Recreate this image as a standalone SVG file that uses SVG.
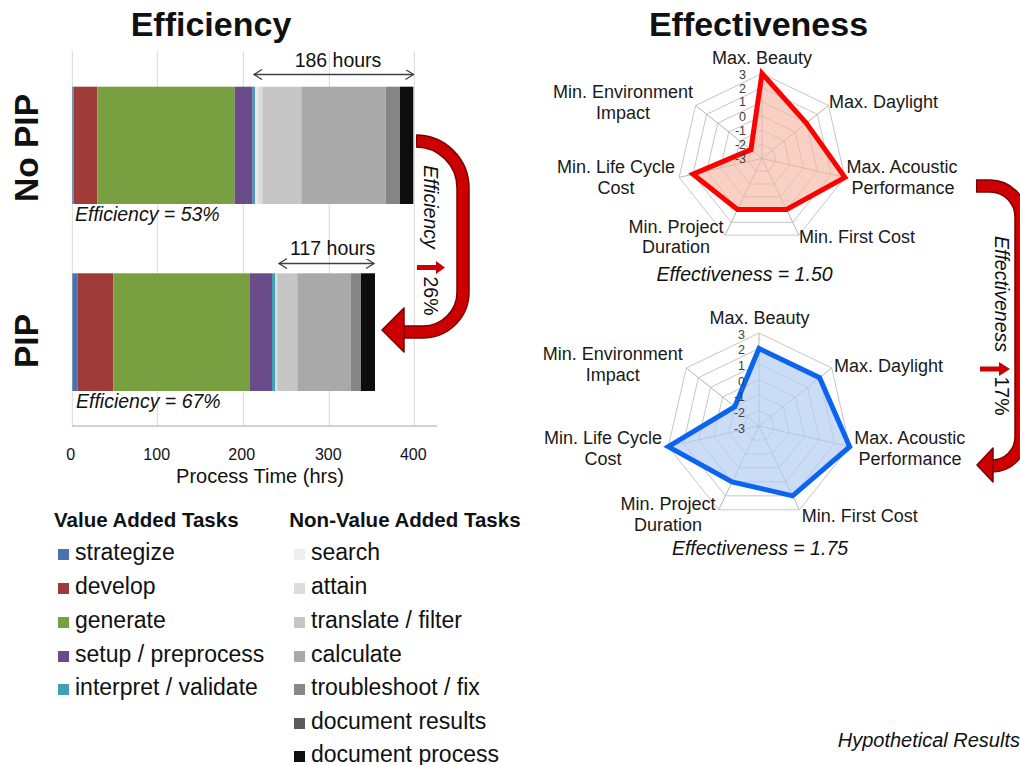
<svg xmlns="http://www.w3.org/2000/svg" width="1020" height="765" viewBox="0 0 1020 765">
<style>
text{font-family:"Liberation Sans",Arial,sans-serif;fill:#111}
.title{font-size:34px;font-weight:bold}
.side{font-size:33.5px;font-weight:bold}
.it{font-style:italic}
.lbl{font-size:19.5px}
.axl{font-size:20px}
.tick{font-size:16px}
.rl{font-size:18px;fill:#1a1a1a}
.rt{font-size:12.5px;fill:#404040;text-anchor:end}
.leg{font-size:23px}
.legh{font-size:20.5px;font-weight:bold}
.note{font-size:20px;font-style:italic}
.grid{stroke:#d9d9d9;stroke-width:1}
.ring{fill:none;stroke:#c6c6c6;stroke-width:1}
.spoke{stroke:#b4b4b4;stroke-width:1}
.band-o{fill:none;stroke:#7a0000;stroke-width:13.5}
.band-i{fill:none;stroke:#cc0000;stroke-width:10.5}
.head{fill:#cc0000;stroke:#7a0000;stroke-width:1.5;stroke-linejoin:round}
.span{stroke:#404040;stroke-width:1.3;fill:none}
.mid{text-anchor:middle}
</style>
<defs>
<marker id="chev" markerUnits="userSpaceOnUse" markerWidth="12" markerHeight="12" refX="9" refY="5" orient="auto-start-reverse">
<path d="M1,0 L9,5 L1,10" fill="none" stroke="#404040" stroke-width="1.3"/>
</marker>
</defs>
<rect width="1020" height="765" fill="#fff"/>

<g id="titles">
<text class="title mid" x="211" y="36">Efficiency</text>
<text class="title mid" x="758.5" y="36">Effectiveness</text>
</g>

<g id="label-nopip"><text class="side mid" transform="translate(38,148) rotate(-90)">No PIP</text></g>
<g id="label-pip"><text class="side mid" transform="translate(38,341) rotate(-90)">PIP</text></g>

<g id="bar-axis">
<line class="grid" x1="72.3" y1="51" x2="72.3" y2="426"/>
<line class="grid" x1="157.3" y1="51" x2="157.3" y2="426"/>
<line class="grid" x1="243.3" y1="51" x2="243.3" y2="426"/>
<line class="grid" x1="329.3" y1="51" x2="329.3" y2="426"/>
<line class="grid" x1="414.3" y1="51" x2="414.3" y2="426"/>
<line x1="72" y1="426" x2="437" y2="426" stroke="#a6a6a6" stroke-width="1.2"/>
<text class="tick mid" x="70.7" y="460">0</text>
<text class="tick mid" x="156.7" y="460">100</text>
<text class="tick mid" x="241.7" y="460">200</text>
<text class="tick mid" x="328.3" y="460">300</text>
<text class="tick mid" x="413.3" y="460">400</text>
<text class="axl mid" x="260" y="483">Process Time (hrs)</text>
</g>

<g id="bar-nopip">
<rect x="72.3" y="86.7" width="1.2" height="117.3" fill="#4a72b0"/>
<rect x="73.5" y="86.7" width="23.8" height="117.3" fill="#9e3b39"/>
<rect x="97.3" y="86.7" width="137.4" height="117.3" fill="#78a040"/>
<rect x="234.7" y="86.7" width="18" height="117.3" fill="#6a4c8b"/>
<rect x="252.7" y="86.7" width="2.3" height="117.3" fill="#3fa0b8"/>
<rect x="255" y="86.7" width="3" height="117.3" fill="#eaeaea"/>
<rect x="258" y="86.7" width="4.3" height="117.3" fill="#dcdcdc"/>
<rect x="262.3" y="86.7" width="39" height="117.3" fill="#c6c6c6"/>
<rect x="301.3" y="86.7" width="84.4" height="117.3" fill="#a9a9a9"/>
<rect x="385.7" y="86.7" width="14.3" height="117.3" fill="#858585"/>
<rect x="400" y="86.7" width="13.3" height="117.3" fill="#0d0d0d"/>
<text class="lbl it" x="75" y="221">Efficiency = 53%</text>
</g>

<g id="bar-pip">
<rect x="72.3" y="273.3" width="5" height="117.7" fill="#4a72b0"/>
<rect x="77.3" y="273.3" width="36" height="117.7" fill="#9e3b39"/>
<rect x="113.3" y="273.3" width="136.7" height="117.7" fill="#78a040"/>
<rect x="250" y="273.3" width="22" height="117.7" fill="#6a4c8b"/>
<rect x="272" y="273.3" width="3" height="117.7" fill="#3fa0b8"/>
<rect x="275" y="273.3" width="2.3" height="117.7" fill="#dcdcdc"/>
<rect x="277.3" y="273.3" width="20" height="117.7" fill="#c6c6c6"/>
<rect x="297.3" y="273.3" width="53.7" height="117.7" fill="#a9a9a9"/>
<rect x="351" y="273.3" width="10" height="117.7" fill="#858585"/>
<rect x="361" y="273.3" width="14" height="117.7" fill="#0d0d0d"/>
<text class="lbl it" x="76" y="408">Efficiency = 67%</text>
</g>

<g id="connectors">
<line class="span" x1="254" y1="74.5" x2="413.5" y2="74.5" marker-start="url(#chev)" marker-end="url(#chev)"/>
<text class="lbl mid" x="338" y="66.5">186 hours</text>
<line class="span" x1="279" y1="263.5" x2="374" y2="263.5" marker-start="url(#chev)" marker-end="url(#chev)"/>
<text class="lbl mid" x="332.7" y="255">117 hours</text>

<path class="band-o" d="M416 141 A47 47 0 0 1 463 188 L463 292 A40 40 0 0 1 423 332 L403 332"/>
<path class="band-i" d="M417 141 A47 47 0 0 1 463 188 L463 292 A40 40 0 0 1 423 332 L402 332"/>
<polygon class="head" points="404,308 382,330 404,352"/>
<text class="lbl it mid" transform="translate(424,207) rotate(90)">Efficiency</text>
<polygon fill="#cc0000" points="417,265 436,265 436,261 445,267.5 436,274 436,270 417,270"/>
<text class="lbl mid" transform="translate(424,296) rotate(90)">26%</text>

<path class="band-o" d="M976 186 L990 186 A31 31 0 0 1 1021 217 L1021 437 A29 29 0 0 1 992 466"/>
<path class="band-i" d="M977 186 L990 186 A31 31 0 0 1 1021 217 L1021 437 A29 29 0 0 1 991 466"/>
<polygon class="head" points="993,448 977,465 993,482"/>
<text class="lbl it mid" transform="translate(995,294) rotate(90)">Effectiveness</text>
<polygon fill="#cc0000" points="980,366.5 999,366.5 999,362 1010,369 999,376 999,371.5 980,371.5"/>
<text class="lbl mid" transform="translate(995,396) rotate(90)">17%</text>
</g>

<g id="radar-nopip">
<polygon class="ring" points="762,144.33 773.08,149.67 775.81,161.65 768.15,171.26 755.85,171.26 748.19,161.65 750.92,149.67"/>
<polygon class="ring" points="762,130.17 784.15,140.83 789.62,164.80 774.29,184.03 749.71,184.03 734.38,164.80 739.85,140.83"/>
<polygon class="ring" points="762,116 795.23,132 803.43,167.96 780.44,196.79 743.56,196.79 720.57,167.96 728.77,132"/>
<polygon class="ring" points="762,101.83 806.30,123.17 817.25,171.11 786.59,209.56 737.41,209.56 706.75,171.11 717.70,123.17"/>
<polygon class="ring" points="762,87.67 817.38,114.33 831.06,174.26 792.73,222.32 731.27,222.32 692.94,174.26 706.62,114.33"/>
<polygon class="ring" points="762,73.5 828.45,105.5 844.87,177.41 798.88,235.09 725.12,235.09 679.13,177.41 695.55,105.5"/>
<path class="spoke" d="M762 158.5 L762 73.5 M762 158.5 L828.45 105.5 M762 158.5 L844.87 177.41 M762 158.5 L798.88 235.09 M762 158.5 L725.12 235.09 M762 158.5 L679.13 177.41 M762 158.5 L695.55 105.5"/>
<polygon points="762,73.5 806.30,123.17 844.87,177.41 786.59,209.56 737.41,209.56 692.94,174.26 750.92,149.67" fill="#f6b9a4" fill-opacity="0.65" stroke="#ff0000" stroke-width="5" stroke-linejoin="miter"/>
<text class="rt" x="746" y="79">3</text>
<text class="rt" x="746" y="92.5">2</text>
<text class="rt" x="746" y="106">1</text>
<text class="rt" x="746" y="120.5">0</text>
<text class="rt" x="746" y="134.5">-1</text>
<text class="rt" x="746" y="149">-2</text>
<text class="rt" x="746" y="163">-3</text>
<text class="rl mid" x="762" y="64">Max. Beauty</text>
<text class="rl mid" x="623" y="98">Min. Environment</text>
<text class="rl mid" x="623" y="119">Impact</text>
<text class="rl" x="829" y="108">Max. Daylight</text>
<text class="rl mid" x="902" y="173">Max. Acoustic</text>
<text class="rl mid" x="903" y="193.5">Performance</text>
<text class="rl" x="799" y="243">Min. First Cost</text>
<text class="rl mid" x="676" y="232.5">Min. Project</text>
<text class="rl mid" x="676" y="253">Duration</text>
<text class="rl mid" x="616" y="173">Min. Life Cycle</text>
<text class="rl mid" x="616" y="194">Cost</text>
<text class="lbl it mid" x="744.5" y="280.5">Effectiveness = 1.50</text>
</g>

<g id="radar-pip">
<polygon class="ring" points="759,410.5 771.12,416.34 774.11,429.45 765.73,439.97 752.27,439.97 743.89,429.45 746.88,416.34"/>
<polygon class="ring" points="759,395 783.24,406.67 789.22,432.90 772.45,453.93 745.55,453.93 728.78,432.90 734.76,406.67"/>
<polygon class="ring" points="759,379.5 795.35,397.01 804.33,436.35 779.18,467.90 738.82,467.90 713.67,436.35 722.65,397.01"/>
<polygon class="ring" points="759,364 807.47,387.34 819.44,439.80 785.90,481.86 732.10,481.86 698.56,439.80 710.53,387.34"/>
<polygon class="ring" points="759,348.5 819.59,377.68 834.55,443.24 792.63,495.83 725.37,495.83 683.45,443.24 698.41,377.68"/>
<polygon class="ring" points="759,333 831.71,368.01 849.67,446.69 799.35,509.79 718.65,509.79 668.33,446.69 686.29,368.01"/>
<path class="spoke" d="M759 426 L759 333 M759 426 L831.71 368.01 M759 426 L849.67 446.69 M759 426 L799.35 509.79 M759 426 L718.65 509.79 M759 426 L668.33 446.69 M759 426 L686.29 368.01"/>
<polygon points="759,348.5 819.59,377.68 849.67,446.69 792.63,495.83 732.10,481.86 668.33,446.69 734.76,406.67" fill="#b4cdf2" fill-opacity="0.7" stroke="#0a64f0" stroke-width="5" stroke-linejoin="miter"/>
<text class="rt" x="745" y="338.5">3</text>
<text class="rt" x="745" y="354">2</text>
<text class="rt" x="745" y="370">1</text>
<text class="rt" x="745" y="385.5">0</text>
<text class="rt" x="745" y="401">-1</text>
<text class="rt" x="745" y="416.5">-2</text>
<text class="rt" x="745" y="433">-3</text>
<text class="rl mid" x="759.5" y="324">Max. Beauty</text>
<text class="rl mid" x="612.7" y="360">Min. Environment</text>
<text class="rl mid" x="612.7" y="380.7">Impact</text>
<text class="rl" x="834" y="371.7">Max. Daylight</text>
<text class="rl mid" x="909.7" y="444">Max. Acoustic</text>
<text class="rl mid" x="910" y="465">Performance</text>
<text class="rl" x="801.7" y="521.7">Min. First Cost</text>
<text class="rl mid" x="668" y="510">Min. Project</text>
<text class="rl mid" x="668" y="530.7">Duration</text>
<text class="rl mid" x="603" y="444">Min. Life Cycle</text>
<text class="rl mid" x="603" y="465">Cost</text>
<text class="lbl it mid" x="760" y="555">Effectiveness = 1.75</text>
</g>

<g id="legend-value">
<text class="legh" x="54" y="526.7">Value Added Tasks</text>
<rect x="58" y="549" width="11" height="11" fill="#4a72b0"/><text class="leg" x="75" y="560">strategize</text>
<rect x="58" y="583" width="11" height="11" fill="#9e3b39"/><text class="leg" x="75" y="594">develop</text>
<rect x="58" y="617" width="11" height="11" fill="#78a040"/><text class="leg" x="75" y="628">generate</text>
<rect x="58" y="651" width="11" height="11" fill="#6a4c8b"/><text class="leg" x="75" y="662">setup / preprocess</text>
<rect x="58" y="684" width="11" height="11" fill="#3fa0b8"/><text class="leg" x="75" y="695">interpret / validate</text>
</g>

<g id="legend-nonvalue">
<text class="legh" x="289.3" y="526.7">Non-Value Added Tasks</text>
<rect x="294" y="549" width="11" height="11" fill="#eeeeee"/><text class="leg" x="311" y="560">search</text>
<rect x="294" y="583" width="11" height="11" fill="#dcdcdc"/><text class="leg" x="311" y="594">attain</text>
<rect x="294" y="617" width="11" height="11" fill="#c6c6c6"/><text class="leg" x="311" y="628">translate / filter</text>
<rect x="294" y="651" width="11" height="11" fill="#a9a9a9"/><text class="leg" x="311" y="662">calculate</text>
<rect x="294" y="684" width="11" height="11" fill="#888888"/><text class="leg" x="311" y="695">troubleshoot / fix</text>
<rect x="294" y="718" width="11" height="11" fill="#5a5a5a"/><text class="leg" x="311" y="729">document results</text>
<rect x="294" y="751" width="11" height="11" fill="#0f0f0f"/><text class="leg" x="311" y="762">document process</text>
</g>

<g id="note">
<text class="note" x="1020" y="747" text-anchor="end">Hypothetical Results</text>
</g>
</svg>
